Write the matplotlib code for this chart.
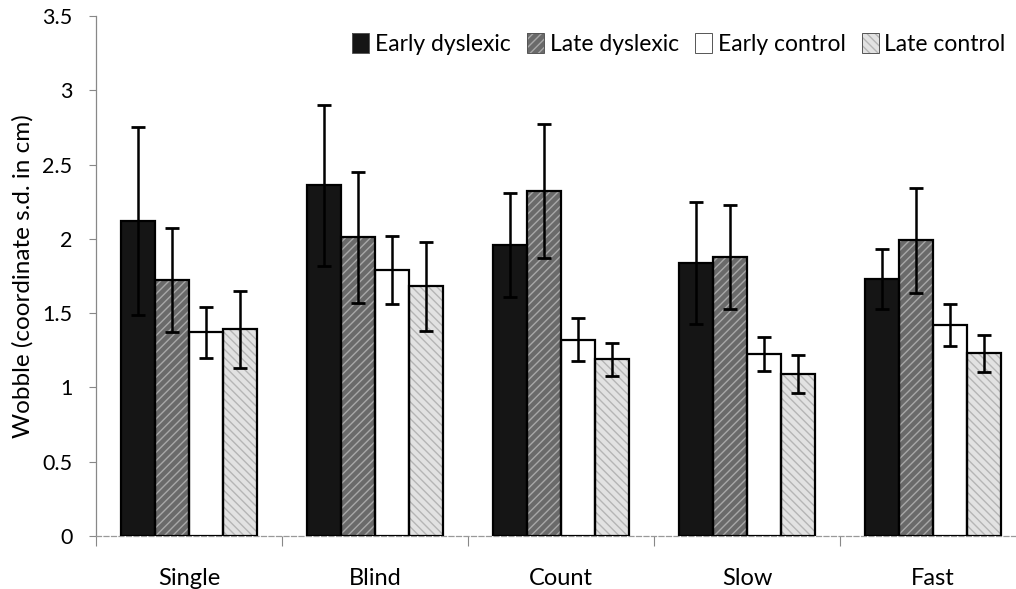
import numpy as np
import matplotlib
matplotlib.use("Agg")
import matplotlib.pyplot as plt
from matplotlib.patches import Patch
from matplotlib.ticker import FixedLocator, NullFormatter

plt.rcParams['font.family'] = ['Lato', 'DejaVu Sans']
plt.rcParams['hatch.linewidth'] = 1.0

conditions = ['Single', 'Blind', 'Count', 'Slow', 'Fast']
groups = ['Early dyslexic', 'Late dyslexic', 'Early control', 'Late control']

early_dys = [2.12, 2.36, 1.96, 1.84, 1.73]
early_dys_err = [0.63, 0.54, 0.35, 0.41, 0.20]
late_dys = [1.72, 2.01, 2.32, 1.88, 1.99]
late_dys_err = [0.35, 0.44, 0.45, 0.35, 0.355]
early_ctl = [1.37, 1.79, 1.32, 1.225, 1.42]
early_ctl_err = [0.17, 0.23, 0.145, 0.115, 0.14]
late_ctl = [1.39, 1.68, 1.19, 1.09, 1.23]
late_ctl_err = [0.26, 0.30, 0.11, 0.125, 0.125]


def main():
    fig = plt.figure(figsize=(10.16, 5.89), dpi=100)
    ax = fig.add_axes([96 / 1016, 53 / 589, 930 / 1016, 520 / 589])

    x = np.arange(len(conditions))
    w = 0.184
    series = [
        (early_dys, early_dys_err, '#151515', None, '#151515'),
        (late_dys, late_dys_err, '#6a6a6a', '////', '#a8a8a8'),
        (early_ctl, early_ctl_err, 'white', None, 'white'),
        (late_ctl, late_ctl_err, '#e2e2e2', '\\\\\\\\', '#b5b5b5'),
    ]
    handles = []
    for i, (vals, errs, face, hatch, hcol) in enumerate(series):
        pos = x + (i - 1.5) * w
        bars = ax.bar(pos, vals, w, color=face, edgecolor=hcol, hatch=hatch,
                      linewidth=0, zorder=2)
        # black outline on top of the hatch
        ax.bar(pos, vals, w, color='none', edgecolor='black', linewidth=1.6, zorder=3)
        ax.errorbar(pos, vals, yerr=errs, fmt='none', ecolor='black',
                    elinewidth=1.8, capsize=5, capthick=2, zorder=4)
        outline = Patch(facecolor='none', edgecolor='#555555', linewidth=0.7)
        handles.append((bars, outline))

    ax.set_xlim(-0.5, 4.5)
    ax.set_ylim(0, 3.5)
    ax.set_yticks(np.arange(0, 3.51, 0.5))
    ax.set_yticklabels(['0', '0.5', '1', '1.5', '2', '2.5', '3', '3.5'])
    ax.set_xticks(x)
    ax.set_xticklabels(conditions)
    ax.xaxis.set_minor_locator(FixedLocator(np.arange(-0.5, 4.6, 1.0)))
    ax.xaxis.set_minor_formatter(NullFormatter())
    ax.tick_params(axis='x', which='major', length=0, pad=23, labelsize=17)
    ax.tick_params(axis='x', which='minor', length=7, color='#888888', width=0.8)
    ax.tick_params(axis='y', length=5, color='#888888', width=0.8, labelsize=15.5, pad=12)

    for s in ['top', 'right']:
        ax.spines[s].set_visible(False)
    ax.spines['left'].set_color('#888888')
    ax.spines['left'].set_linewidth(0.9)
    ax.spines['bottom'].set_color('#999999')
    ax.spines['bottom'].set_linewidth(0.9)
    ax.spines['bottom'].set_linestyle((0, (4, 2)))

    ax.set_ylabel('Wobble (coordinate s.d. in cm)', fontsize=17.5, labelpad=6)

    ax.legend(handles, groups, loc='upper right', ncol=4, frameon=False,
              fontsize=16.5, handlelength=0.75, handleheight=1.0,
              handletextpad=0.25, columnspacing=0.7,
              bbox_to_anchor=(0.988, 0.985), borderaxespad=0)

    fig.savefig('out.png', dpi=100)


if __name__ == '__main__':
    main()
